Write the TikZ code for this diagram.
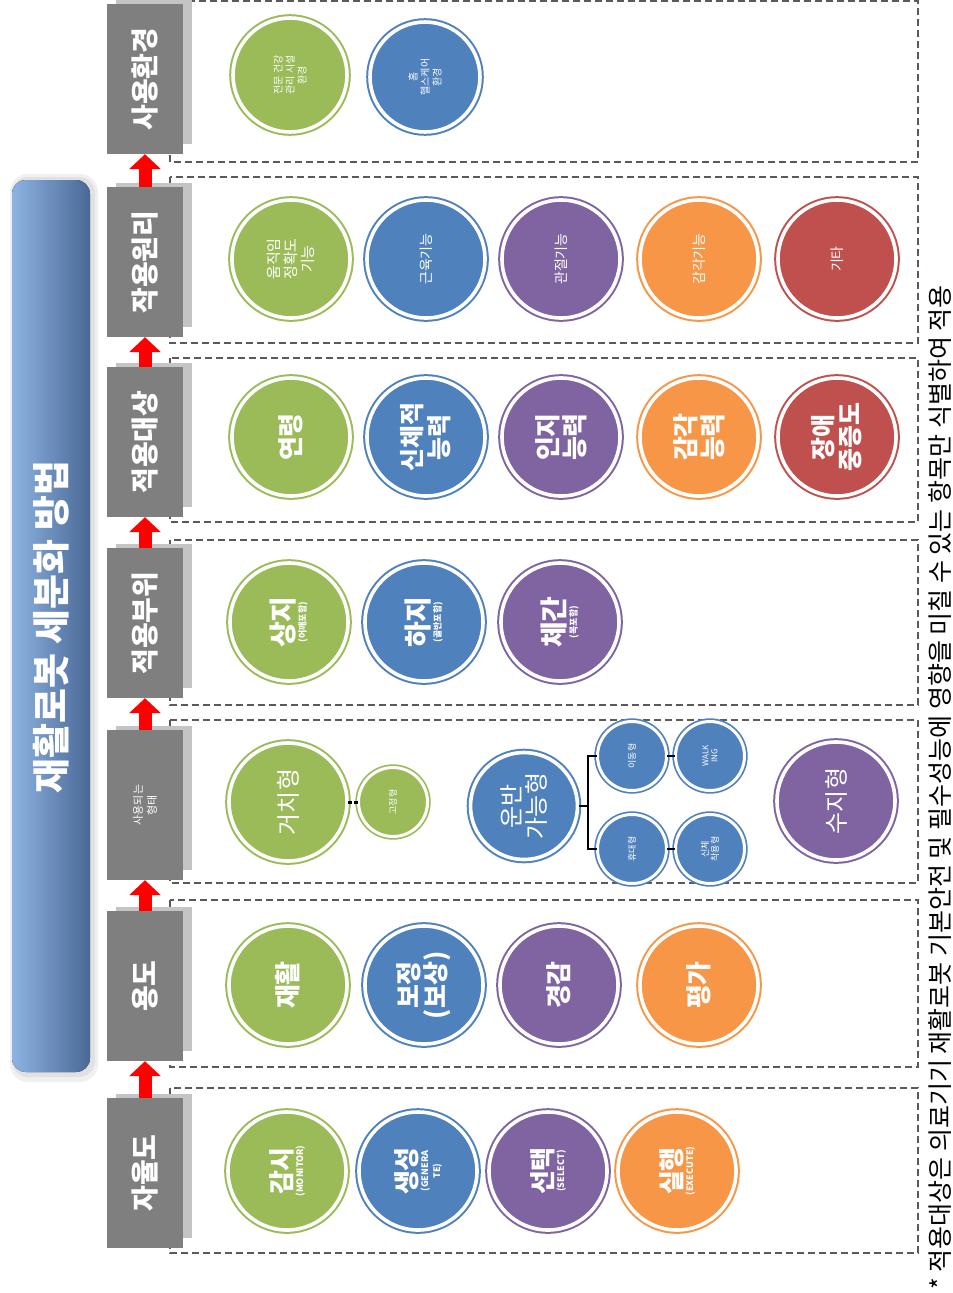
\documentclass[tikz,border=0pt]{standalone}
\usepackage{fontspec}
\setmainfont{Noto Sans CJK KR}
\usetikzlibrary{arrows.meta,backgrounds}
\definecolor{cgreen}{HTML}{9BBB59}
\definecolor{cblue}{HTML}{4F81BD}
\definecolor{cpurple}{HTML}{8064A2}
\definecolor{corange}{HTML}{F79646}
\definecolor{cred}{HTML}{C0504D}
\definecolor{boxgray}{HTML}{7F7F7F}
\definecolor{shadowgray}{HTML}{C4C4C4}
\definecolor{panelgray}{HTML}{5A5A5A}
\definecolor{tleft}{HTML}{8DB3E2}
\definecolor{tright}{HTML}{4A6896}
\definecolor{arrred}{HTML}{FF0000}
\newcommand\fsz[2]{\fontsize{#1}{#2}\selectfont}
\begin{document}
\begin{tikzpicture}[x=1pt,y=-1pt,
  circ/.style={circle, fill=#1, draw=#1, double=white, double distance=3.6pt, line width=2pt,
    inner sep=0pt, minimum size=118pt, text=white, rotate=90, align=center, font=\bfseries},
  smallcirc/.style={circ=#1, minimum size=69pt, double distance=3pt, line width=1.7pt},
  midcirc/.style={circ=#1, minimum size=107pt},
  graybox/.style={fill=boxgray, rotate=90, minimum width=150pt, minimum height=76pt,
    inner sep=2pt, text=white, font=\bfseries, align=center},
  shadowbox/.style={fill=shadowgray, rotate=90, minimum width=144pt, minimum height=76pt},
  panel/.style={draw=panelgray, line width=1.6pt, dash pattern=on 7pt off 4pt},
  redarrow/.style={draw=arrred, line width=13pt, -{Triangle[length=15pt, width=31pt]}},
  conn/.style={draw=black, line width=2pt},
  dotconn/.style={draw=black, line width=3pt, dash pattern=on 4pt off 2pt},
  title/.style={rotate=90, text=white, font=\bfseries\fsz{38}{40}},
  note/.style={rotate=90, anchor=west, font=\fsz{25}{27}, inner sep=0pt}
]
\useasboundingbox (0,0) rectangle (953,1293);
\begin{scope}[on background layer]
  \fill[white] (0,0) rectangle (953,1293);
\end{scope}

% title banner
\fill[black, opacity=0.06, rounded corners=18pt] (10,174) rectangle (98,1082);
\fill[black, opacity=0.06, rounded corners=16pt] (12,177) rectangle (95,1077);
\fill[rounded corners=14pt, left color=tleft, right color=tright] (12,180) rectangle (90,1072);
\node[title] (ttl) at (51,627) {재활로봇 세분화 방법};

% dashed panels
\draw[panel] (170,1) rectangle (918,162);
\draw[panel] (170,177) rectangle (918,343);
\draw[panel] (170,358) rectangle (918,522);
\draw[panel] (170,540) rectangle (918,705);
\draw[panel] (170,720) rectangle (918,883);
\draw[panel] (170,900) rectangle (918,1067);
\draw[panel] (170,1088) rectangle (918,1253);

% category boxes
\foreach \y in {79,262,442,623,805,986,1173}{
  \node[shadowbox] at (154,\y-7) {};
}
\node[graybox, font=\bfseries\fsz{28}{30}] (b7) at (145,79) {사용환경};
\node[graybox, font=\bfseries\fsz{28}{30}] (b6) at (145,262) {작용원리};
\node[graybox, font=\bfseries\fsz{28}{30}] (b5) at (145,442) {적용대상};
\node[graybox, font=\bfseries\fsz{28}{30}] (b4) at (145,623) {적용부위};
\node[graybox, font=\fsz{11}{14}] (b3) at (145,805) {사용되는\\형태};
\node[graybox, font=\bfseries\fsz{28}{30}] (b2) at (145,986) {용도};
\node[graybox, font=\bfseries\fsz{28}{30}] (b1) at (145,1173) {자율도};

\draw[redarrow] (b1.east) -- (b2.west);
\draw[redarrow] (b2.east) -- (b3.west);
\draw[redarrow] (b3.east) -- (b4.west);
\draw[redarrow] (b4.east) -- (b5.west);
\draw[redarrow] (b5.east) -- (b6.west);
\draw[redarrow] (b6.east) -- (b7.west);

% row: 사용환경
\node[circ=cgreen, minimum size=114pt, font=\fsz{10}{12}] (e1) at (290,75) {전문 건강\\관리 시설\\환경};
\node[circ=cblue, minimum size=110pt, font=\fsz{10}{12}] (e2) at (425,77) {홈\\헬스케어\\환경};

% row: 작용원리
\node[circ=cgreen, font=\fsz{15}{17}] (p1) at (291,259) {움직임\\정확도\\기능};
\node[circ=cblue, font=\fsz{14}{16}] (p2) at (426,259) {근육기능};
\node[circ=cpurple, font=\fsz{14}{16}] (p3) at (561,259) {관절기능};
\node[circ=corange, font=\fsz{14}{16}] (p4) at (699,259) {감각기능};
\node[circ=cred, font=\fsz{14}{16}] (p5) at (837,259) {기타};

% row: 적용대상
\node[circ=cgreen, font=\bfseries\fsz{26}{28}] (t1) at (291,437) {연령};
\node[circ=cblue, font=\bfseries\fsz{25}{27}] (t2) at (426,437) {신체적\\능력};
\node[circ=cpurple, font=\bfseries\fsz{26}{27}] (t3) at (561,437) {인지\\능력};
\node[circ=corange, font=\bfseries\fsz{26}{27}] (t4) at (699,437) {감각\\능력};
\node[circ=cred, font=\bfseries\fsz{25}{27}] (t5) at (837,437) {장애\\중증도};

% row: 적용부위
\node[circ=cgreen] (u1) at (289,622) {\fsz{28}{28}상지\\\fsz{9}{10}(어깨포함)};
\node[circ=cblue] (u2) at (424,622) {\fsz{28}{28}하지\\\fsz{9}{10}(골반포함)};
\node[circ=cpurple] (u3) at (560,622) {\fsz{28}{28}체간\\\fsz{9}{10}(목포함)};

% row: 사용되는 형태
\node[circ=cgreen, font=\fsz{24}{26}] (geochi) at (288,802) {거치형};
\node[smallcirc=cgreen, font=\fsz{9}{10}] (gojeong) at (393,802) {고정형};
\node[midcirc=cblue, font=\fsz{24}{25}] (unban) at (524,806) {운반\\가능형};
\node[smallcirc=cblue, font=\fsz{9}{10}] (idong) at (632,756) {이동형};
\node[smallcirc=cblue, font=\fsz{8}{9}] (walk) at (710,756) {WALK\\ING};
\node[smallcirc=cblue, font=\fsz{9}{10}] (hyudae) at (632,849) {휴대형};
\node[smallcirc=cblue, font=\fsz{9}{10}] (sinche) at (710,849) {신체\\착용형};
\node[circ=cpurple, font=\fsz{24}{26}] (suji) at (836,801) {수지형};
\coordinate (bm) at (588,806);
\coordinate (bt) at (588,756);
\coordinate (bb) at (588,849);
\draw[dotconn] (geochi) -- (gojeong);
\draw[conn] (unban) -- (bm);
\draw[conn] (idong) -- (bt) -- (bb) -- (hyudae);
\draw[conn] (idong) -- (walk);
\draw[conn] (hyudae) -- (sinche);

% row: 용도
\node[circ=cgreen, font=\bfseries\fsz{26}{28}] (y1) at (288,985) {재활};
\node[circ=cblue, font=\bfseries\fsz{26}{27}] (y2) at (424,985) {보정\\(보상)};
\node[circ=cpurple, font=\bfseries\fsz{26}{28}] (y3) at (559,985) {경감};
\node[circ=corange, font=\bfseries\fsz{26}{28}] (y4) at (699,985) {평가};

% row: 자율도
\node[circ=cgreen] (a1) at (287,1171) {\fsz{26}{26}감시\\\fsz{9}{10}(MONITOR)};
\node[circ=cblue] (a2) at (418,1171) {\fsz{26}{26}생성\\\fsz{9}{10}(GENERA\\\fsz{9}{10}TE)};
\node[circ=cpurple] (a3) at (548,1171) {\fsz{26}{26}선택\\\fsz{9}{10}(SELECT)};
\node[circ=corange] (a4) at (677,1171) {\fsz{26}{26}실행\\\fsz{9}{10}(EXECUTE)};

% footnote
\node[note] (fn) at (940,1290) {* 적용대상은 의료기기 재활로봇 기본안전 및 필수성능에 영향을 미칠 수 있는 항목만 식별하여 적용};
\end{tikzpicture}
\end{document}
